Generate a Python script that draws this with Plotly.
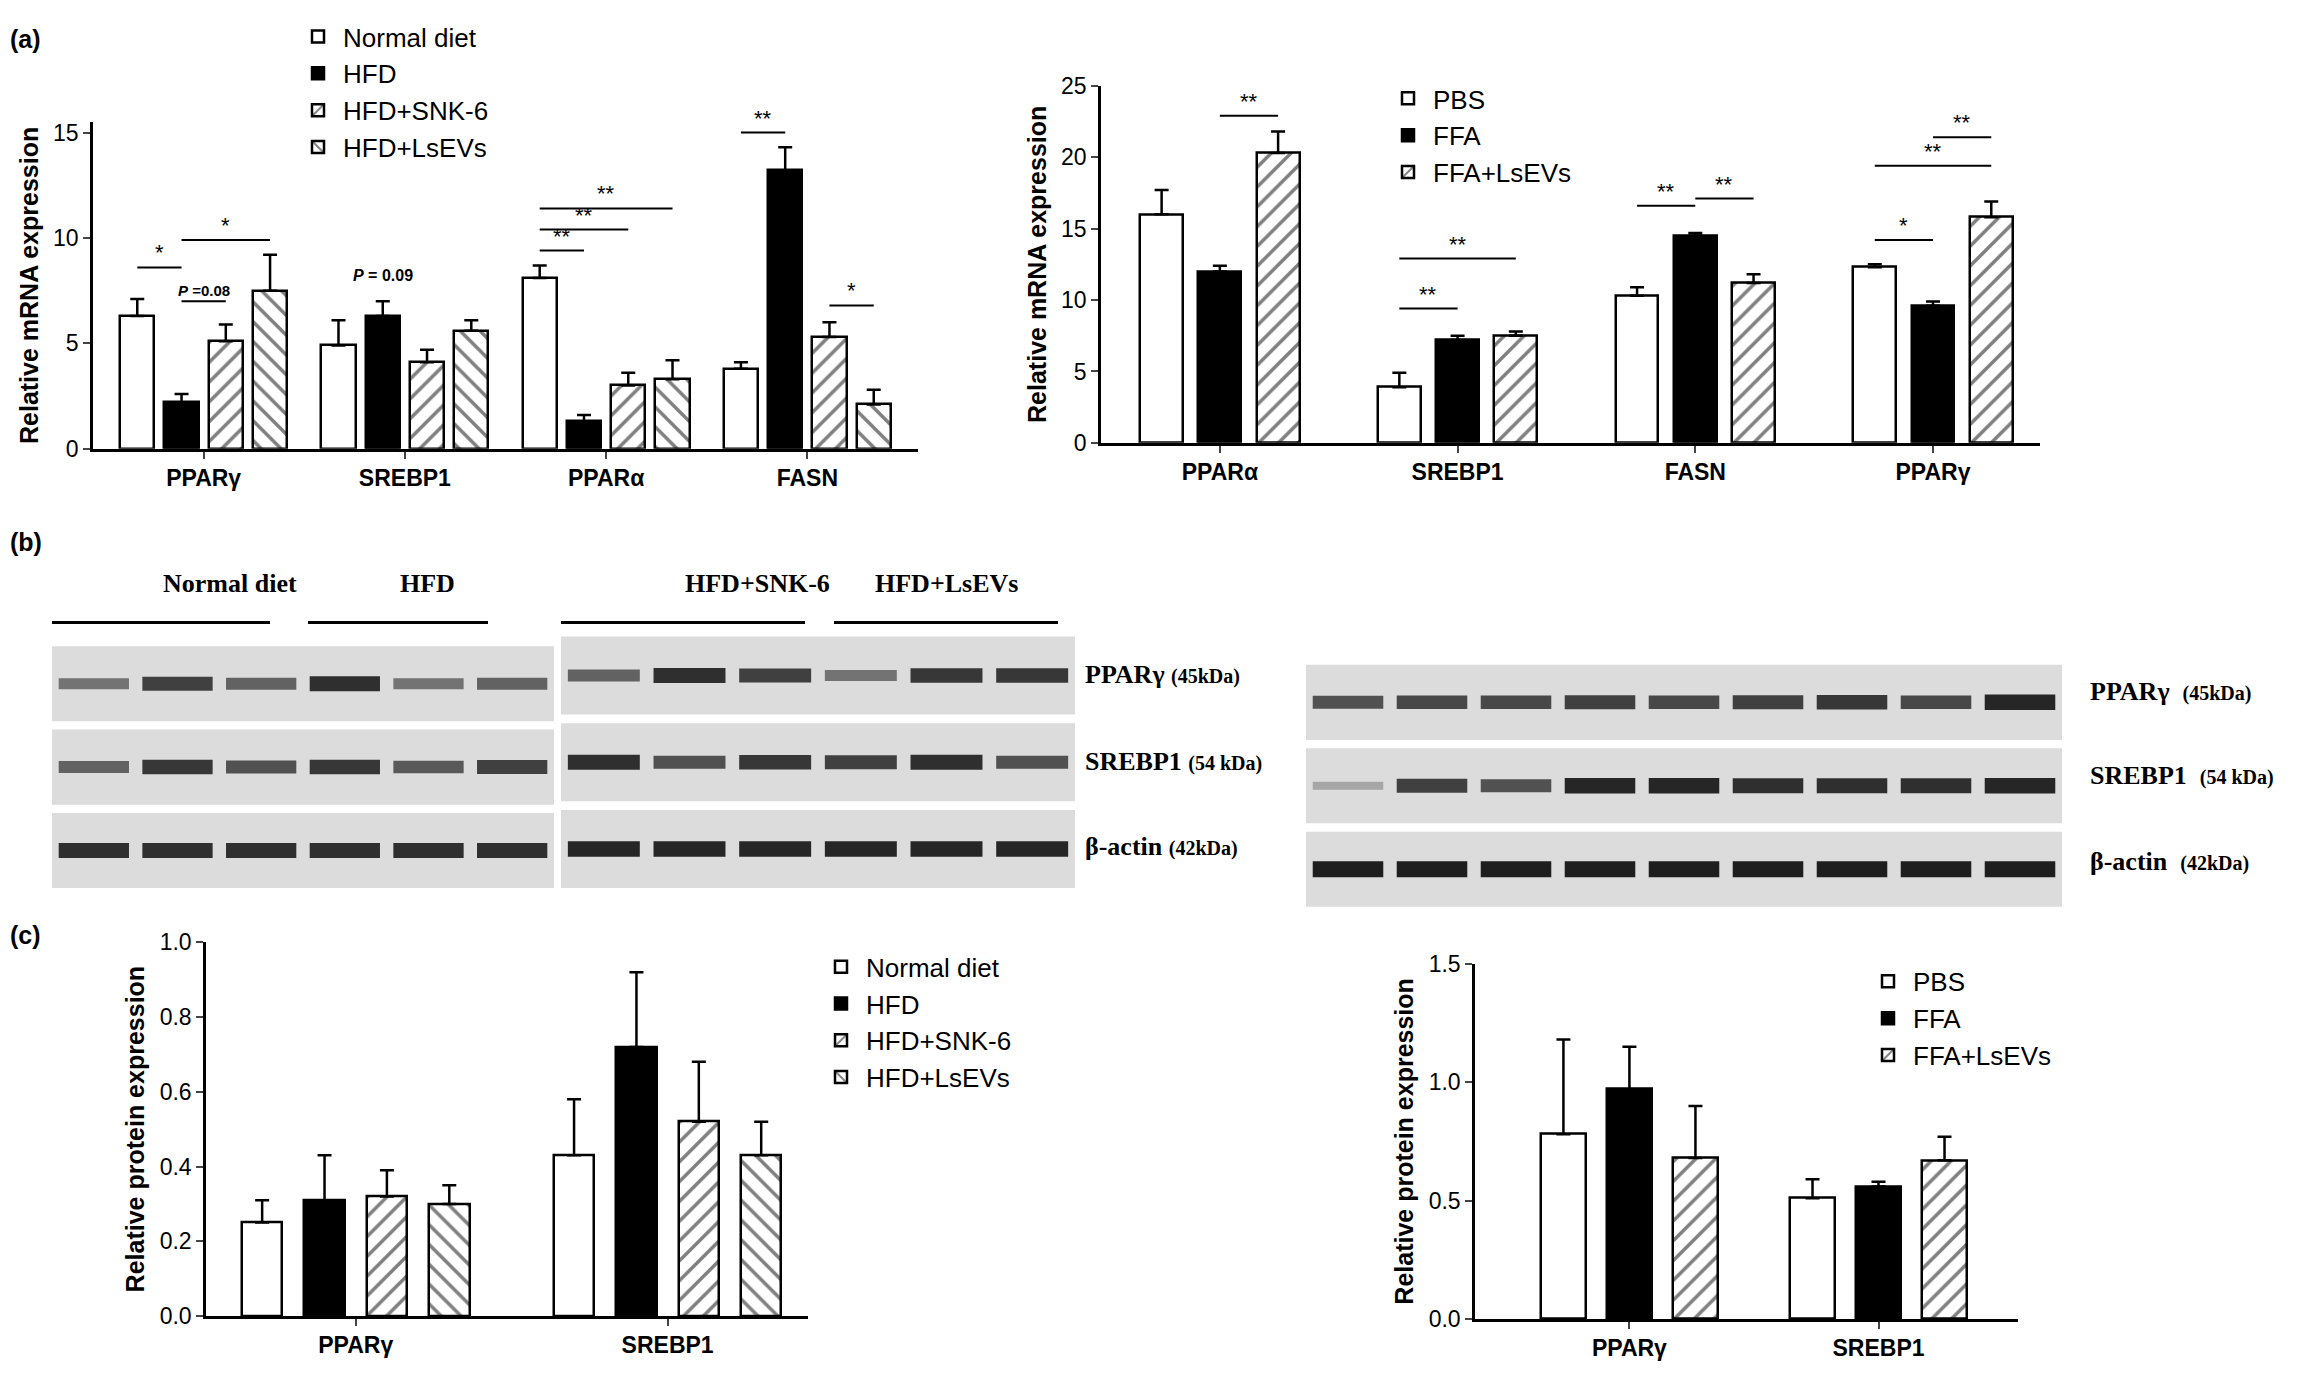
import plotly.graph_objects as go

W, H = 2301, 1375

# ---- panel (a) left: mRNA in vivo
a1_genes = ["PPARγ", "SREBP1", "PPARα", "FASN"]
a1_groups = ["Normal diet", "HFD", "HFD+SNK-6", "HFD+LsEVs"]
a1_vals = [[6.3, 4.9, 8.1, 3.8], [2.2, 6.3, 1.3, 13.2], [5.1, 4.1, 3.0, 5.3], [7.5, 5.6, 3.3, 2.1]]
a1_err = [[0.8, 1.2, 0.6, 0.3], [0.4, 0.7, 0.3, 1.1], [0.8, 0.6, 0.6, 0.7], [1.7, 0.5, 0.9, 0.7]]
# (gene, bar i, bar j, height, label)
a1_sig = [(0, 0, 1, 8.6, "*"), (0, 1, 3, 9.9, "*"), (0, 1, 2, 7.0, "<b><i>P</i> =0.08</b>"),
          (2, 0, 1, 9.4, "**"), (2, 0, 2, 10.4, "**"), (2, 0, 3, 11.4, "**"),
          (3, 0, 1, 15.0, "**"), (3, 1, 2, 15.8, "**"), (3, 1, 3, 16.7, "**"), (3, 2, 3, 6.8, "*")]

# ---- panel (a) right: mRNA in vitro
a2_genes = ["PPARα", "SREBP1", "FASN", "PPARγ"]
a2_groups = ["PBS", "FFA", "FFA+LsEVs"]
a2_vals = [[16.0, 3.9, 10.3, 12.3], [12.0, 7.2, 14.5, 9.6], [20.3, 7.5, 11.2, 15.8]]
a2_err = [[1.7, 1.0, 0.6, 0.2], [0.4, 0.3, 0.2, 0.3], [1.5, 0.3, 0.6, 1.1]]
a2_sig = [(0, 1, 2, 22.9, "**"), (1, 0, 1, 9.4, "**"), (1, 0, 2, 12.9, "**"),
          (2, 0, 1, 16.6, "**"), (2, 1, 2, 17.1, "**"),
          (3, 0, 1, 14.2, "*"), (3, 0, 2, 19.4, "**"), (3, 1, 2, 21.4, "**")]

# ---- panel (c)
c1_genes = ["PPARγ", "SREBP1"]
c1_vals = [[0.25, 0.43], [0.31, 0.72], [0.32, 0.52], [0.30, 0.43]]
c1_err = [[0.06, 0.15], [0.12, 0.20], [0.07, 0.16], [0.05, 0.09]]
c2_genes = ["PPARγ", "SREBP1"]
c2_vals = [[0.78, 0.51], [0.97, 0.56], [0.68, 0.67]]
c2_err = [[0.40, 0.08], [0.18, 0.02], [0.22, 0.10]]

# ---- panel (b) blot band intensities per lane
blotL1 = [[0.5, 0.8, 0.6, 0.9, 0.5, 0.6], [0.6, 0.85, 0.7, 0.85, 0.65, 0.8], [0.9, 0.9, 0.9, 0.9, 0.9, 0.9]]
blotL2 = [[0.6, 0.9, 0.8, 0.5, 0.85, 0.85], [0.9, 0.7, 0.85, 0.8, 0.9, 0.7], [0.95, 0.95, 0.95, 0.95, 0.95, 0.95]]
blotR = [[0.7, 0.75, 0.75, 0.8, 0.75, 0.8, 0.85, 0.75, 0.95],
         [0.2, 0.8, 0.7, 0.95, 0.95, 0.9, 0.9, 0.9, 0.95],
         [1, 1, 1, 1, 1, 1, 1, 1, 1]]
blotR_lanes = ["PBS", "FFA", "FFA+LsEVs"] * 3

SANS = "Liberation Sans"
SERIF = "Liberation Serif"
styles4 = [("white", ""), ("black", ""), ("white", "/"), ("white", "\\")]

fig = go.Figure()


def px(x):
    return x / W


def py(y):
    return 1 - y / H


def bars(vals, errs, names, xa, ya, off, width, legend, n_genes):
    for j, name in enumerate(names):
        col, pat = styles4[j]
        fig.add_trace(go.Bar(
            x=[i + (j - (len(names) - 1) / 2) * off for i in range(n_genes)],
            y=vals[j], width=width, name=name, xaxis=xa, yaxis=ya, legend=legend,
            marker=dict(color=col, line=dict(color="black", width=2.5),
                        pattern=dict(shape=pat, fgcolor="black", size=14, solidity=0.25)),
            error_y=dict(type="data", array=errs[j], arrayminus=[0] * n_genes, symmetric=False,
                         color="black", thickness=2.5, width=7),
        ))


def sig(items, n, off, xa, ya):
    for g, i, j, h, lab in items:
        x1 = g + (i - (n - 1) / 2) * off
        x2 = g + (j - (n - 1) / 2) * off
        fig.add_trace(go.Scatter(x=[x1, x2], y=[h, h], mode="lines", xaxis=xa, yaxis=ya,
                                 line=dict(color="black", width=2), cliponaxis=False, showlegend=False))
        fig.add_annotation(x=(x1 + x2) / 2, y=h, xref=xa, yref=ya.replace("axis", ""), text=lab,
                           showarrow=False, yanchor="bottom",
                           font=dict(size=22 if "*" in lab else 15, family=SANS, color="black"))


bars(a1_vals, a1_err, a1_groups, "x", "y", 0.22, 0.17, "legend", 4)
sig(a1_sig, 4, 0.22, "x", "y")
fig.add_annotation(x=1 - 0.11, y=7.7, xref="x", yref="y", text="<b><i>P</i> = 0.09</b>", showarrow=False,
                   yanchor="bottom", font=dict(size=16, family=SANS, color="black"))
bars(a2_vals, a2_err, a2_groups, "x2", "y2", 0.245, 0.18, "legend2", 4)
sig(a2_sig, 3, 0.245, "x2", "y2")
bars(c1_vals, c1_err, a1_groups, "x3", "y3", 0.2, 0.13, "legend3", 2)
bars(c2_vals, c2_err, a2_groups, "x4", "y4", 0.265, 0.18, "legend4", 2)

# blots
for k, (blot, xa, ya) in enumerate([(blotL1, "x5", "y5"), (blotL2, "x6", "y6"), (blotR, "x7", "y7")]):
    n = len(blot[0])
    for r, row in enumerate(blot):
        fig.add_shape(type="rect", xref=xa, yref=ya, x0=-0.5, x1=n - 0.5, y0=r - 0.45, y1=r + 0.45,
                      fillcolor="#dcdcdc", line=dict(width=0), layer="below")
        for lane, v in enumerate(row):
            shade = int(200 - 170 * v)
            fig.add_trace(go.Scatter(x=[lane - 0.42, lane + 0.42], y=[r, r], mode="lines", xaxis=xa, yaxis=ya,
                                     line=dict(color=f"rgb({shade},{shade},{shade})", width=6 + 10 * v),
                                     showlegend=False, hoverinfo="skip"))

axis_common = dict(showline=True, linecolor="black", linewidth=2.5, ticks="outside", ticklen=7,
                   tickwidth=2, showgrid=False, zeroline=False, tickfont=dict(size=23, family=SANS, color="black"))
blank = dict(visible=False, showgrid=False, zeroline=False)


def ytitle(t):
    return dict(text=f"<b>{t}</b>", font=dict(size=25, family=SANS, color="black"), standoff=8)


fig.update_layout(
    width=W, height=H, margin=dict(l=0, r=0, t=0, b=0), paper_bgcolor="white", plot_bgcolor="white",
    showlegend=True, bargap=0,
    xaxis=dict(domain=[px(85), px(910)], range=[-0.55, 3.55], tickvals=list(range(4)),
               ticktext=[f"<b>{g}</b>" for g in a1_genes], anchor="y", **axis_common),
    yaxis=dict(domain=[py(436), py(103)], range=[0, 15.5], tickvals=[0, 5, 10, 15], anchor="x",
               title=ytitle("Relative mRNA expression"), **axis_common),
    xaxis2=dict(domain=[px(1093), px(2032)], range=[-0.5, 3.45], tickvals=list(range(4)),
                ticktext=[f"<b>{g}</b>" for g in a2_genes], anchor="y2", **axis_common),
    yaxis2=dict(domain=[py(430), py(66)], range=[0, 25], tickvals=[0, 5, 10, 15, 20, 25], anchor="x2",
                title=ytitle("Relative mRNA expression"), **axis_common),
    xaxis3=dict(domain=[px(198), px(800)], range=[-0.48, 1.45], tickvals=[0, 1],
                ticktext=[f"<b>{g}</b>" for g in c1_genes], anchor="y3", **axis_common),
    yaxis3=dict(domain=[py(1320), py(939)], range=[0, 1.0], tickvals=[0, 0.2, 0.4, 0.6, 0.8, 1.0],
                tickformat=".1f", anchor="x3", title=ytitle("Relative protein expression"), **axis_common),
    xaxis4=dict(domain=[px(1467), px(2010)], range=[-0.62, 1.56], tickvals=[0, 1],
                ticktext=[f"<b>{g}</b>" for g in c2_genes], anchor="y4", **axis_common),
    yaxis4=dict(domain=[py(1323), py(961)], range=[0, 1.5], tickvals=[0, 0.5, 1.0, 1.5],
                tickformat=".1f", anchor="x4", title=ytitle("Relative protein expression"), **axis_common),
    xaxis5=dict(domain=[px(44), px(546)], range=[-0.5, 5.5], anchor="y5", **blank),
    yaxis5=dict(domain=[py(888), py(633)], range=[2.5, -0.5], anchor="x5", **blank),
    xaxis6=dict(domain=[px(553), px(1067)], range=[-0.5, 5.5], anchor="y6", **blank),
    yaxis6=dict(domain=[py(888), py(623)], range=[2.5, -0.5], anchor="x6", **blank),
    xaxis7=dict(domain=[px(1298), px(2054)], range=[-0.5, 8.5], anchor="y7", **blank),
    yaxis7=dict(domain=[py(907), py(652)], range=[2.5, -0.5], anchor="x7", **blank),
)

leg = dict(font=dict(size=26, family=SANS, color="black"), bgcolor="rgba(0,0,0,0)",
           itemwidth=40, tracegroupgap=2, xanchor="left", yanchor="top")
fig.update_layout(
    legend=dict(x=px(285), y=py(-8), **leg),
    legend2=dict(x=px(1375), y=py(55), **leg),
    legend3=dict(x=px(808), y=py(940), **leg),
    legend4=dict(x=px(1855), y=py(955), **leg),
)

# panel letters
for t, x, y in [("(a)", 0, 2), ("(b)", 0, 515), ("(c)", 0, 915)]:
    fig.add_annotation(x=px(x), y=py(y), xref="paper", yref="paper", text=f"<b>{t}</b>", showarrow=False,
                       xanchor="left", yanchor="top", font=dict(size=25, family=SANS, color="black"))

# blot group headers (left)
for name, x0, x1 in [("Normal diet", 44, 262), ("HFD", 300, 480), ("HFD+SNK-6", 553, 797), ("HFD+LsEVs", 826, 1050)]:
    fig.add_annotation(x=px((x0 + x1) / 2), y=py(590), xref="paper", yref="paper", text=f"<b>{name}</b>",
                       showarrow=False, yanchor="bottom", font=dict(size=26, family=SERIF, color="black"))
    fig.add_shape(type="line", xref="paper", yref="paper", x0=px(x0), x1=px(x1), y0=py(613), y1=py(613),
                  line=dict(color="black", width=3))

# blot row labels
for lab, kd, y in [("PPARγ", "(45kDa)", 666), ("SREBP1", "(54 kDa)", 755), ("β-actin", "(42kDa)", 841)]:
    fig.add_annotation(x=px(1075), y=py(y), xref="paper", yref="paper",
                       text=f"<b>{lab}</b> <span style='font-size:20px'><b>{kd}</b></span>", showarrow=False,
                       xanchor="left", font=dict(size=26, family=SERIF, color="black"))
for lab, kd, y in [("PPARγ", "(45kDa)", 683), ("SREBP1", "(54 kDa)", 769), ("β-actin", "(42kDa)", 857)]:
    fig.add_annotation(x=px(2080), y=py(y), xref="paper", yref="paper",
                       text=f"<b>{lab}</b>  <span style='font-size:20px'><b>{kd}</b></span>", showarrow=False,
                       xanchor="left", font=dict(size=26, family=SERIF, color="black"))

# rotated lane labels (right blot)
for lane, lab in enumerate(blotR_lanes):
    fig.add_annotation(x=lane, y=-0.6, xref="x7", yref="y7", text=f"<b>{lab}</b>", showarrow=False,
                       textangle=-55, xanchor="left", yanchor="bottom", xshift=-14,
                       font=dict(size=26, family=SERIF, color="black"))

fig.write_html("out.html")
